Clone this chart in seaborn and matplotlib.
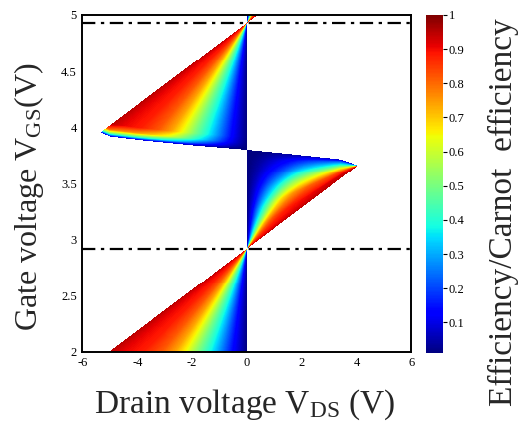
import numpy as np
import pandas as pd
import matplotlib
matplotlib.use("Agg")
import matplotlib.pyplot as plt
import seaborn as sns

# -------------------------------
# Values
# -------------------------------
# dash-dot lines / apex gate voltages where the stopping lines cross V_DS = 0
APEX_VGS = [2.92, 4.93]
PERIOD = 2.01
LINE_SLOPE = 0.183          # dV_GS / dV_DS of the stopping-voltage lines

# curved lobe boundary meeting V_DS = 0 at V_GS ~ 3.8
CURVE_VDS = [-5.36, -5.0, -3.9, -2.08, 0.0, 1.57, 3.4, 4.0]
CURVE_VGS = [3.96, 3.92, 3.887, 3.842, 3.80, 3.762, 3.715, 3.664]

# efficiency across a lobe vs fraction of stopping voltage
R_FRAC = [0.0, 0.1, 0.25, 0.35, 0.44, 0.52, 0.62, 0.75, 0.9, 1.0]
ETA_FRAC = [0.01, 0.13, 0.36, 0.5, 0.64, 0.74, 0.82, 0.88, 0.91, 0.95]

# fall-off towards the curved boundary
# left lobes: distance above the curve in volts; right lobes: fraction of lobe height
D_LEFT = [0.0, 0.025, 0.06, 0.11]
RIM_LEFT = [0.1, 0.5, 0.85, 1.0]
U_RIGHT = [0.0, 0.1, 0.25, 0.45, 0.65, 0.85]
RIM_RIGHT = [0.08, 0.25, 0.42, 0.7, 0.92, 1.0]

X_TICKS = [-6, -4, -2, 0, 2, 4, 6]
Y_TICKS = [2, 2.5, 3, 3.5, 4, 4.5, 5]
CBAR_TICKS = [0.1, 0.2, 0.3, 0.4, 0.5, 0.6, 0.7, 0.8, 0.9, 1]

VDS_RANGE = (-6, 6)
VGS_RANGE = (2, 5)
NX, NY = 330, 340

# -------------------------------
# Build efficiency map
# -------------------------------
vds_c = VDS_RANGE[0] + (np.arange(NX) + 0.5) * (VDS_RANGE[1] - VDS_RANGE[0]) / NX
vgs_c = VGS_RANGE[1] - (np.arange(NY) + 0.5) * (VGS_RANGE[1] - VGS_RANGE[0]) / NY
VDS, VGS = np.meshgrid(vds_c, vgs_c)

eta = np.full(VDS.shape, np.nan)
curve = np.interp(VDS, CURVE_VDS, CURVE_VGS)
apexes = [APEX_VGS[0] - PERIOD, APEX_VGS[0], APEX_VGS[1], APEX_VGS[1] + PERIOD]

with np.errstate(divide="ignore", invalid="ignore"):
    for a in apexes:
        line = a + LINE_SLOPE * VDS
        r = LINE_SLOPE * VDS / (VGS - a)
        # left lobe (below line, above curve)
        c_left = curve - APEX_VGS[1] + a
        m = (VDS < 0) & (VDS >= CURVE_VDS[0]) & (VGS < line) & (VGS > c_left)
        val = np.interp(r, R_FRAC, ETA_FRAC) * np.interp(VGS - c_left, D_LEFT, RIM_LEFT)
        eta[m] = val[m]
        # right lobe (above line, below curve)
        c_right = curve - APEX_VGS[0] + a
        m = (VDS > 0) & (VDS <= CURVE_VDS[-1]) & (VGS > line) & (VGS < c_right)
        u = (c_right - VGS) / (c_right - line)
        val = np.interp(r, R_FRAC, ETA_FRAC) * np.interp(u, U_RIGHT, RIM_RIGHT)
        eta[m] = val[m]

eff_df = pd.DataFrame(eta, index=np.round(vgs_c, 4), columns=np.round(vds_c, 4))

# -------------------------------
# Plot
# -------------------------------
sns.set_theme(style="white")
plt.rcParams["font.family"] = "serif"
plt.rcParams["font.serif"] = ["Liberation Serif", "DejaVu Serif"]
plt.rcParams["mathtext.fontset"] = "custom"
plt.rcParams["mathtext.rm"] = "Liberation Serif"
plt.rcParams["mathtext.it"] = "Liberation Serif:italic"

fig = plt.figure(figsize=(5.22, 4.26), dpi=100)
ax = fig.add_axes([0.158, 0.174, 0.630, 0.791])
cax = fig.add_axes([0.816, 0.171, 0.033, 0.794])

sns.heatmap(
    eff_df, ax=ax, cbar_ax=cax, cmap="jet", vmin=0.01, vmax=1.0,
    xticklabels=False, yticklabels=False, linewidths=0, rasterized=True
)


def to_x(v):
    return (v - VDS_RANGE[0]) / (VDS_RANGE[1] - VDS_RANGE[0]) * NX


def to_y(v):
    return (VGS_RANGE[1] - v) / (VGS_RANGE[1] - VGS_RANGE[0]) * NY


for a in APEX_VGS:
    ax.axhline(to_y(a), color="black", lw=1.6, ls=(0, (6, 2.5, 1.5, 2.5)))

ax.set_xticks([to_x(v) for v in X_TICKS])
ax.set_xticklabels([str(v) for v in X_TICKS])
ax.set_yticks([to_y(v) for v in Y_TICKS])
ax.set_yticklabels([f"{v:g}" for v in Y_TICKS], rotation=0)
ax.tick_params(axis="both", labelsize=9, length=2, direction="in", pad=4, colors="black")
ax.set_xlim(0, NX)
ax.set_ylim(NY, 0)

for s in ax.spines.values():
    s.set_visible(True)
    s.set_color("black")
    s.set_linewidth(1.4)

ax.set_xlabel(r"Drain voltage V$_{\mathrm{DS}}$ (V)", fontsize=24)
ax.set_ylabel(r"Gate voltage V$_{\mathrm{GS}}$(V)", fontsize=23)
ax.xaxis.set_label_coords(0.494, -0.105)
ax.yaxis.set_label_coords(-0.112, 0.46)

cax.set_yticks(CBAR_TICKS)
cax.set_yticklabels([f"{v:g}" for v in CBAR_TICKS])
cax.tick_params(labelsize=9, length=3, width=0.8, colors="black", pad=1)
for s in cax.spines.values():
    s.set_visible(False)

fig.text(503 / 522, 1 - 212 / 426, "Efficiency/Carnot  efficiency",
         rotation=90, ha="center", va="center", fontsize=24)

fig.savefig("out.png", dpi=100)
